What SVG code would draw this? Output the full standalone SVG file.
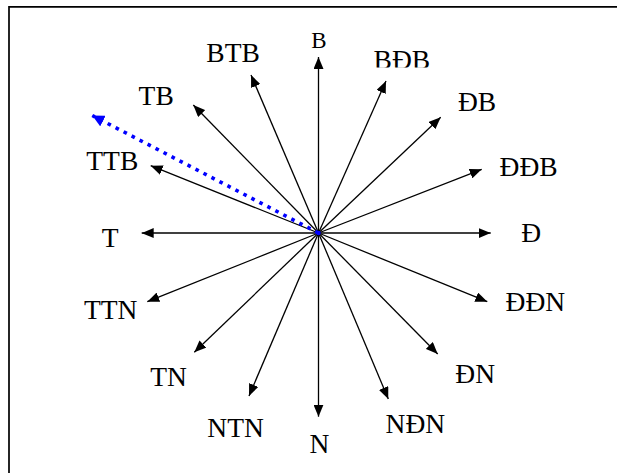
<svg xmlns="http://www.w3.org/2000/svg" width="617" height="473" viewBox="0 0 617 473">
<style>
.bg{fill:#fff}
.frame{fill:none;stroke:#000;stroke-width:1.7}
.ray{stroke:#000;stroke-width:1.3;fill:none}
.blue{stroke:#0000ff;stroke-width:3.6;stroke-dasharray:3.6 5.4;fill:none}
text{font-family:"Liberation Serif","Times New Roman",serif;font-size:27.5px;fill:#000}
</style>
<defs>
<marker id="ah" viewBox="0 0 12 10" refX="12" refY="5" markerWidth="12" markerHeight="10" markerUnits="userSpaceOnUse" orient="auto">
<path d="M0,0 L12,5 L0,10 z" fill="#000"/>
</marker>
<marker id="bh" viewBox="0 0 12 12" refX="12" refY="6" markerWidth="12" markerHeight="12" markerUnits="userSpaceOnUse" orient="auto">
<path d="M0,0 L12,6 L0,12 z" fill="#0000ff"/>
</marker>
<clipPath id="clipBDB"><rect x="360" y="30" width="100" height="37.5"/></clipPath>
</defs>
<rect class="bg" x="0" y="0" width="617" height="473"/>
<path class="frame" d="M9,480 L9,6.8 L625,6.8"/>
<g id="connectors">
<line class="ray" x1="318.5" y1="233" x2="318.5" y2="57" marker-end="url(#ah)"/>
<line class="ray" x1="318.5" y1="233" x2="386" y2="81" marker-end="url(#ah)"/>
<line class="ray" x1="318.5" y1="233" x2="440.7" y2="117.3" marker-end="url(#ah)"/>
<line class="ray" x1="318.5" y1="233" x2="481.7" y2="169.3" marker-end="url(#ah)"/>
<line class="ray" x1="318.5" y1="233" x2="490.7" y2="233" marker-end="url(#ah)"/>
<line class="ray" x1="318.5" y1="233" x2="487.3" y2="301.7" marker-end="url(#ah)"/>
<line class="ray" x1="318.5" y1="233" x2="437.7" y2="354" marker-end="url(#ah)"/>
<line class="ray" x1="318.5" y1="233" x2="388.3" y2="399" marker-end="url(#ah)"/>
<line class="ray" x1="318.5" y1="233" x2="318.5" y2="416.7" marker-end="url(#ah)"/>
<line class="ray" x1="318.5" y1="233" x2="249" y2="396" marker-end="url(#ah)"/>
<line class="ray" x1="318.5" y1="233" x2="194.3" y2="352.3" marker-end="url(#ah)"/>
<line class="ray" x1="318.5" y1="233" x2="147.3" y2="301.7" marker-end="url(#ah)"/>
<line class="ray" x1="318.5" y1="233" x2="141.7" y2="233" marker-end="url(#ah)"/>
<line class="ray" x1="318.5" y1="233" x2="150.7" y2="165.7" marker-end="url(#ah)"/>
<line class="ray" x1="318.5" y1="233" x2="193.3" y2="105" marker-end="url(#ah)"/>
<line class="ray" x1="318.5" y1="233" x2="251" y2="75" marker-end="url(#ah)"/>
<line class="blue" x1="318.5" y1="233" x2="92.3" y2="115.5" marker-end="url(#bh)"/>
<circle cx="318.5" cy="233" r="2.3" fill="#0000ff"/>
</g>
<g id="n-B"><text x="311.3" y="48.3" style="font-size:23px">B</text></g>
<g id="n-BTB"><text x="206.3" y="62.3">BTB</text></g>
<g id="n-TB"><text x="138.6" y="105">TB</text></g>
<g id="n-TTB"><text x="86.3" y="170">TTB</text></g>
<g id="n-T"><text x="101.8" y="246.7">T</text></g>
<g id="n-TTN"><text x="83.9" y="319.3">TTN</text></g>
<g id="n-TN"><text x="150.3" y="385.7">TN</text></g>
<g id="n-NTN"><text x="207.3" y="437.3">NTN</text></g>
<g id="n-N"><text x="309.6" y="453.3">N</text></g>
<g id="n-NDN"><text x="385.6" y="433.3">NĐN</text></g>
<g id="n-DN"><text x="455.3" y="383.3">ĐN</text></g>
<g id="n-DDN"><text x="505.6" y="310.7">ĐĐN</text></g>
<g id="n-D"><text x="521.3" y="241.7">Đ</text></g>
<g id="n-DDB"><text x="499.6" y="175.7">ĐĐB</text></g>
<g id="n-DB"><text x="457.9" y="110.7">ĐB</text></g>
<g id="n-BDB"><text x="373.6" y="69" clip-path="url(#clipBDB)">BĐB</text></g>
</svg>
